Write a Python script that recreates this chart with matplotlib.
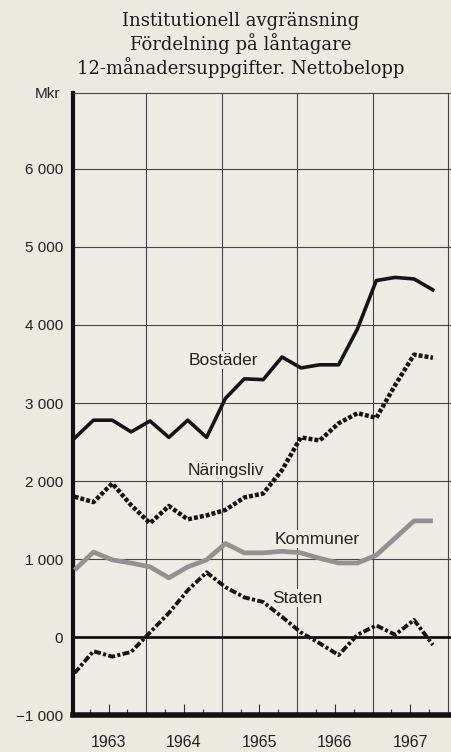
import numpy as np
import matplotlib
matplotlib.use('Agg')
import matplotlib.pyplot as plt

# Quarterly 12-month figures, Mkr (first point end of 1962 .. last point Q3 1967)
quarter_index = np.arange(20)
bostader = [2550, 2780, 2780, 2630, 2770, 2560, 2780, 2560, 3060, 3310,
            3300, 3590, 3450, 3490, 3490, 3950, 4570, 4610, 4590, 4450]
naringsliv = [1800, 1730, 1970, 1690, 1460, 1680, 1510, 1560, 1630, 1790,
              1840, 2140, 2560, 2520, 2740, 2870, 2810, 3230, 3620, 3580]
kommuner = [860, 1090, 990, 950, 900, 760, 900, 990, 1200, 1080,
            1080, 1100, 1080, 1010, 950, 950, 1050, 1270, 1490, 1490]
staten = [-460, -180, -250, -190, 60, 310, 600, 830, 640, 510,
          450, 260, 60, -80, -230, 30, 150, 30, 220, -100]

years = [1963, 1964, 1965, 1966, 1967]
yticks = [-1000, 0, 1000, 2000, 3000, 4000, 5000, 6000]
ytick_labels = ['\u22121 000', '0', '1 000', '2 000', '3 000', '4 000', '5 000', '6 000']

# x position in years for each quarter
x = 1963.05 + quarter_index / 4

paper = '#ebe9e0'
fig = plt.figure(figsize=(4.51, 7.52), dpi=100, facecolor=paper)
ax = fig.add_axes([0.162, 0.049, 0.838, 0.827])
ax.set_facecolor('#eeece5')

# grid
for yv in yticks[2:]:
    ax.axhline(yv, color='#444444', lw=0.8, zorder=1)
for yr in years[1:] + [years[-1] + 1]:
    ax.axvline(yr, color='#444444', lw=0.8, zorder=1)
ax.axhline(0, color='#111111', lw=2.0, zorder=2)

# series
ax.plot(x, kommuner, color='#929292', lw=3.4, solid_capstyle='butt', zorder=3)
ax.plot(x, staten, color='#151515', lw=2.8, linestyle=(0, (1.8, 0.6, 0.8, 0.6)), zorder=4)
ax.plot(x, naringsliv, color='#151515', lw=3.2, linestyle=(0, (0.9, 0.45)), zorder=4)
ax.plot(x, bostader, color='#151515', lw=2.6, zorder=5)

# series labels (boxes mask the grid like the printed original)
box = dict(boxstyle='square,pad=0.1', fc='#eeece5', ec='none')
lab = dict(fontsize=12.5, family='Liberation Sans', color='#222222', ha='center', va='center',
           zorder=2.5, bbox=box)
ax.text(1965.02, 3550, 'Bostäder', **lab)
ax.text(1965.06, 2140, 'Näringsliv', **lab)
ax.text(1966.27, 1256, 'Kommuner', **lab)
ax.text(1966.0, 500, 'Staten', **lab)

ax.set_xlim(1963.03, 1968.04)
ax.set_ylim(-1000, 6970)

# axes frame
ax.spines['right'].set_visible(False)
ax.spines['top'].set_linewidth(0.8)
ax.spines['top'].set_color('#444444')
ax.spines['left'].set_linewidth(3.0)
ax.spines['left'].set_color('#111111')
ax.spines['bottom'].set_linewidth(4.0)
ax.spines['bottom'].set_color('#111111')

ax.set_yticks(yticks)
ax.set_yticklabels(ytick_labels, fontsize=11, family='Liberation Sans', color='#222222')
ax.tick_params(axis='y', length=0, pad=7)

ax.set_xticks([yr + 0.5 for yr in years])
ax.set_xticklabels([str(yr) for yr in years], fontsize=11.5, family='Liberation Sans', color='#222222')
ax.set_xticks([yr + q for yr in years for q in (0.25, 0.75)], minor=True)
ax.tick_params(axis='x', which='major', direction='in', length=8, width=0.8, color='#333333', pad=14)
ax.tick_params(axis='x', which='minor', direction='in', length=4, width=0.8, color='#333333')

ax.text(-0.035, 0.998, 'Mkr', transform=ax.transAxes, ha='right', va='center',
        fontsize=11, family='Liberation Sans', color='#222222')

fig.text(0.533, 0.940, 'Institutionell avgränsning\nFördelning på låntagare\n12-månadersuppgifter. Nettobelopp',
         ha='center', va='center', fontsize=13, family='DejaVu Serif', color='#1a1a1a', linespacing=1.2)

fig.savefig('out.png', dpi=100, facecolor=paper)
